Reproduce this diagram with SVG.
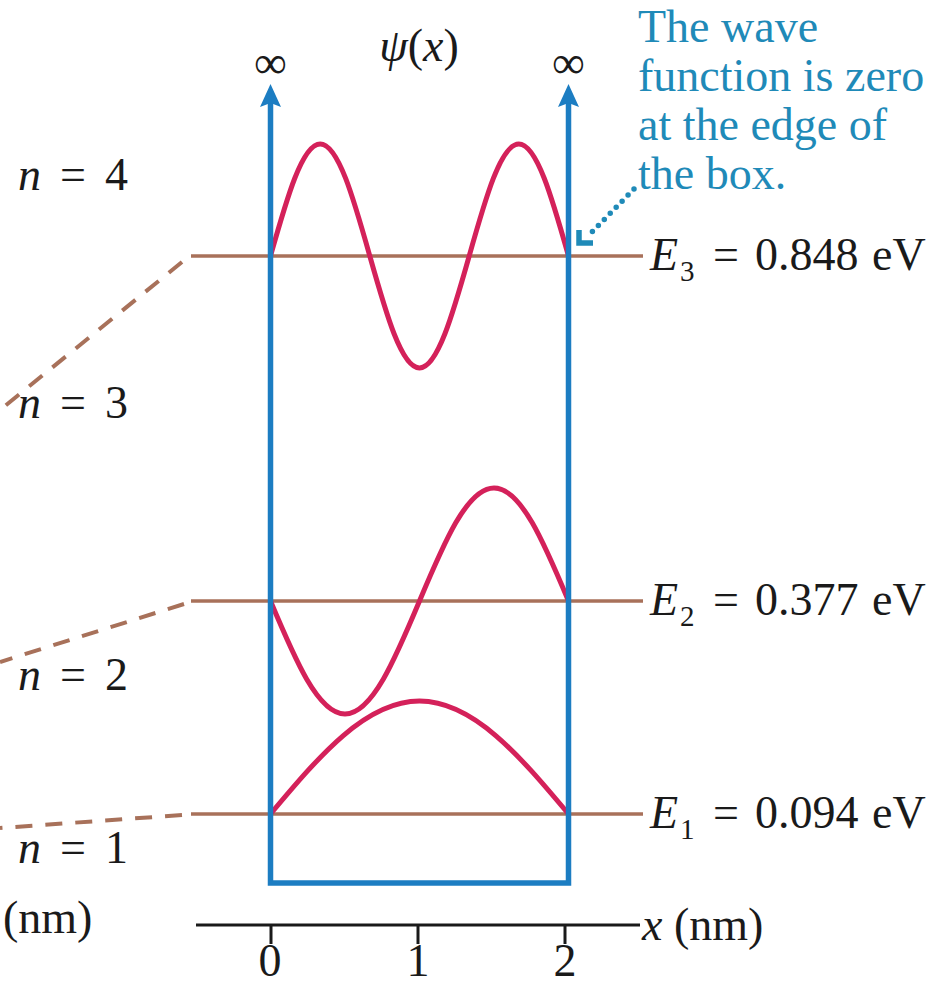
<svg xmlns="http://www.w3.org/2000/svg" width="939" height="985" viewBox="0 0 939 985">
<style>
.math{font-family:"Liberation Serif","DejaVu Serif",serif;font-size:46px;fill:#1a1a1a}
.it{font-style:italic}
.note{font-family:"Liberation Serif","DejaVu Serif",serif;font-size:46px;fill:#1f8ab8}
.lvl{stroke:#a8715a;stroke-width:3.5;fill:none}
.dash{stroke:#a8715a;stroke-width:4;fill:none;stroke-dasharray:17 13}
.wave{stroke:#d4215a;stroke-width:5;fill:none;stroke-linecap:round}
.wall{stroke:#1c7dc2;stroke-width:5.5;fill:none}
.axis{stroke:#1a1a1a;stroke-width:3;fill:none}
</style>
<rect width="939" height="985" fill="#ffffff"/>

<g id="connectors">
  <line class="dash" x1="182" y1="262" x2="0" y2="410"/>
  <line class="dash" x1="184" y1="604" x2="0" y2="662"/>
  <line class="dash" x1="182" y1="815" x2="0" y2="828"/>
  <path d="M634,189 L591,233" stroke="#1f8ab8" stroke-width="5.5" stroke-linecap="round" stroke-dasharray="0 8.5" fill="none"/>
  <path d="M579,230 L579,243 L593,243" stroke="#1f8ab8" stroke-width="5.5" fill="none" stroke-linejoin="miter"/>
</g>

<g id="level-3">
  <line class="lvl" x1="191" y1="256" x2="643" y2="256"/>
  <path class="wave" d="M270.5,256 C286.7,198.6 302.2,144 320.2,144 C338.2,144 353.6,198.6 369.8,256 C386,313.4 401.5,368 419.5,368 C437.5,368 453,313.4 469.2,256 C485.4,198.6 500.8,144 518.8,144 C536.8,144 552.3,198.6 568.5,256"/>
  <text class="math" y="270"><tspan x="650" class="it">E</tspan><tspan x="680" dy="11" font-size="29">3</tspan><tspan x="726" dy="-11" text-anchor="middle">=</tspan><tspan x="755">0.848</tspan><tspan x="872">eV</tspan></text>
</g>

<g id="level-2">
  <line class="lvl" x1="191" y1="601" x2="643" y2="601"/>
  <path class="wave" d="M270.5,601 C294.8,658.9 318,714 345,714 C372,714 395.2,658.9 419.5,601 C443.8,543.1 467,488 494,488 C521,488 544.2,543.1 568.5,601"/>
  <text class="math" y="615"><tspan x="650" class="it">E</tspan><tspan x="680" dy="11" font-size="29">2</tspan><tspan x="726" dy="-11" text-anchor="middle">=</tspan><tspan x="755">0.377</tspan><tspan x="872">eV</tspan></text>
</g>

<g id="level-1">
  <line class="lvl" x1="191" y1="814" x2="643" y2="814"/>
  <path class="wave" d="M270.5,814 C319.1,756.1 365.6,701 419.5,701 C473.4,701 519.9,756.1 568.5,814"/>
  <text class="math" y="828"><tspan x="650" class="it">E</tspan><tspan x="680" dy="11" font-size="29">1</tspan><tspan x="726" dy="-11" text-anchor="middle">=</tspan><tspan x="755">0.094</tspan><tspan x="872">eV</tspan></text>
</g>

<g id="box">
  <path class="wall" d="M270.5,100 V883 H568.5 V100"/>
  <polygon points="270.5,84 281,107 270.5,103 260,107" fill="#1c7dc2"/>
  <polygon points="568.5,84 579,107 568.5,103 558,107" fill="#1c7dc2"/>
  <text class="math" x="270.5" y="78" text-anchor="middle">∞</text>
  <text class="math" x="568.5" y="78" text-anchor="middle">∞</text>
  <text class="math" x="419" y="61" text-anchor="middle"><tspan class="it">ψ</tspan>(<tspan class="it">x</tspan>)</text>
</g>

<g id="annotation">
  <text class="note" x="638" y="41.5">The wave</text>
  <text class="note" x="638" y="91">function is zero</text>
  <text class="note" x="638" y="140">at the edge of</text>
  <text class="note" x="638" y="189">the box.</text>
</g>

<g id="n-labels">
  <text class="math" y="190"><tspan x="18" class="it">n</tspan><tspan x="73" text-anchor="middle">=</tspan><tspan x="105">4</tspan></text>
  <text class="math" y="418"><tspan x="18" class="it">n</tspan><tspan x="73" text-anchor="middle">=</tspan><tspan x="105">3</tspan></text>
  <text class="math" y="690"><tspan x="18" class="it">n</tspan><tspan x="73" text-anchor="middle">=</tspan><tspan x="105">2</tspan></text>
  <text class="math" y="863"><tspan x="18" class="it">n</tspan><tspan x="73" text-anchor="middle">=</tspan><tspan x="105">1</tspan></text>
  <text class="math" x="3" y="933">(nm)</text>
</g>

<g id="x-axis">
  <line class="axis" x1="196" y1="925" x2="640" y2="925"/>
  <line class="axis" x1="271" y1="925" x2="271" y2="944"/>
  <line class="axis" x1="418" y1="925" x2="418" y2="944"/>
  <line class="axis" x1="565" y1="925" x2="565" y2="944"/>
  <text class="math" y="940"><tspan x="642" class="it">x</tspan> (nm)</text>
  <text class="math" x="270" y="976" text-anchor="middle" font-size="40">0</text>
  <text class="math" x="418" y="976" text-anchor="middle" font-size="40">1</text>
  <text class="math" x="565" y="976" text-anchor="middle" font-size="40">2</text>
</g>
</svg>
